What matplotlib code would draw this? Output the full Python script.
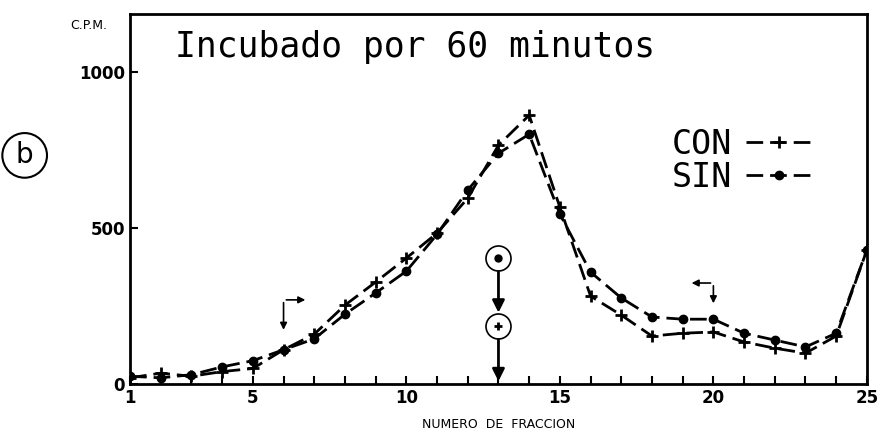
import matplotlib.pyplot as plt

# データ
fraccion = list(range(1, 26))
con = [20, 35, 25, 40, 50, 110, 160, 253, 327, 404, 484, 596, 766, 862, 567,
       282, 221, 154, 163, 167, 135, 115, 99, 154, 430]
sin = [25, 20, 30, 55, 75, 110, 145, 224, 292, 362, 480, 622, 740, 801, 545,
       359, 276, 215, 208, 208, 163, 141, 119, 163, 430]
xticks = [1, 5, 10, 15, 20, 25]
yticks = [0, 500, 1000]

fig = plt.figure(figsize=(8.81, 4.44), dpi=100)
ax = fig.add_axes([0.1476, 0.135, 0.8364, 0.833])

dash = (0, (6, 2.5))
ax.plot(fraccion, con, color='black', lw=2, linestyle=dash, marker='+',
        markersize=8, markeredgewidth=2, label='CON')
ax.plot(fraccion, sin, color='black', lw=2, linestyle=dash, marker='o',
        markersize=6, label='SIN')

ax.set_xlim(1, 25)
ax.set_ylim(0, 1186)
ax.set_xticks(range(1, 26))
ax.set_xticklabels([str(i) if i in xticks else '' for i in range(1, 26)])
ax.set_yticks(yticks)
ax.tick_params(direction='in', length=6, width=1.5, labelsize=12)
for lab in ax.get_xticklabels() + ax.get_yticklabels():
    lab.set_fontweight('bold')
for s in ax.spines.values():
    s.set_linewidth(2)

ax.set_xlabel('NUMERO  DE  FRACCION', fontsize=9, labelpad=8)

# タイトルと凡例
mono = 'DejaVu Sans Mono'
ax.text(2.45, 1050, 'Incubado por 60 minutos', family=mono, fontsize=25)
leg = ax.legend(loc='upper left', bbox_to_anchor=(642 / 881, 1 - 98 / 444),
                bbox_transform=fig.transFigure, frameon=False,
                markerfirst=False, numpoints=1, handlelength=2.0,
                handletextpad=0.4, prop={'family': mono, 'size': 24},
                labelspacing=0.0)

fig.text(0.08, 0.935, 'C.P.M.', fontsize=9)
fig.text(0.028, 0.65, 'b', fontsize=20, ha='center', va='center',
         bbox=dict(boxstyle='circle,pad=0.3', fc='white', ec='black', lw=1.5))

# 矢印
arrow = dict(arrowstyle='-|>', color='black', lw=2, mutation_scale=18)
ax.plot([13], [404], 'o', ms=18, mfc='white', mec='black', mew=1.2)
ax.plot([13], [404], 'o', ms=5, color='black')
ax.plot([13], [186], 'o', ms=18, mfc='white', mec='black', mew=1.2)
ax.plot([13], [186], '+', ms=6, mew=2, color='black')
ax.annotate('', xy=(13, 220), xytext=(13, 370), arrowprops=arrow)
ax.annotate('', xy=(13, 0), xytext=(13, 152), arrowprops=arrow)

thin = dict(arrowstyle='-|>', color='black', lw=1.2, mutation_scale=10)
ax.annotate('', xy=(6, 165), xytext=(6, 270), arrowprops=thin)
ax.annotate('', xy=(6.8, 270), xytext=(6, 270), arrowprops=thin)
ax.annotate('', xy=(20, 250), xytext=(20, 324), arrowprops=thin)
ax.annotate('', xy=(19.2, 324), xytext=(20, 324), arrowprops=thin)

plt.savefig('out.png')
